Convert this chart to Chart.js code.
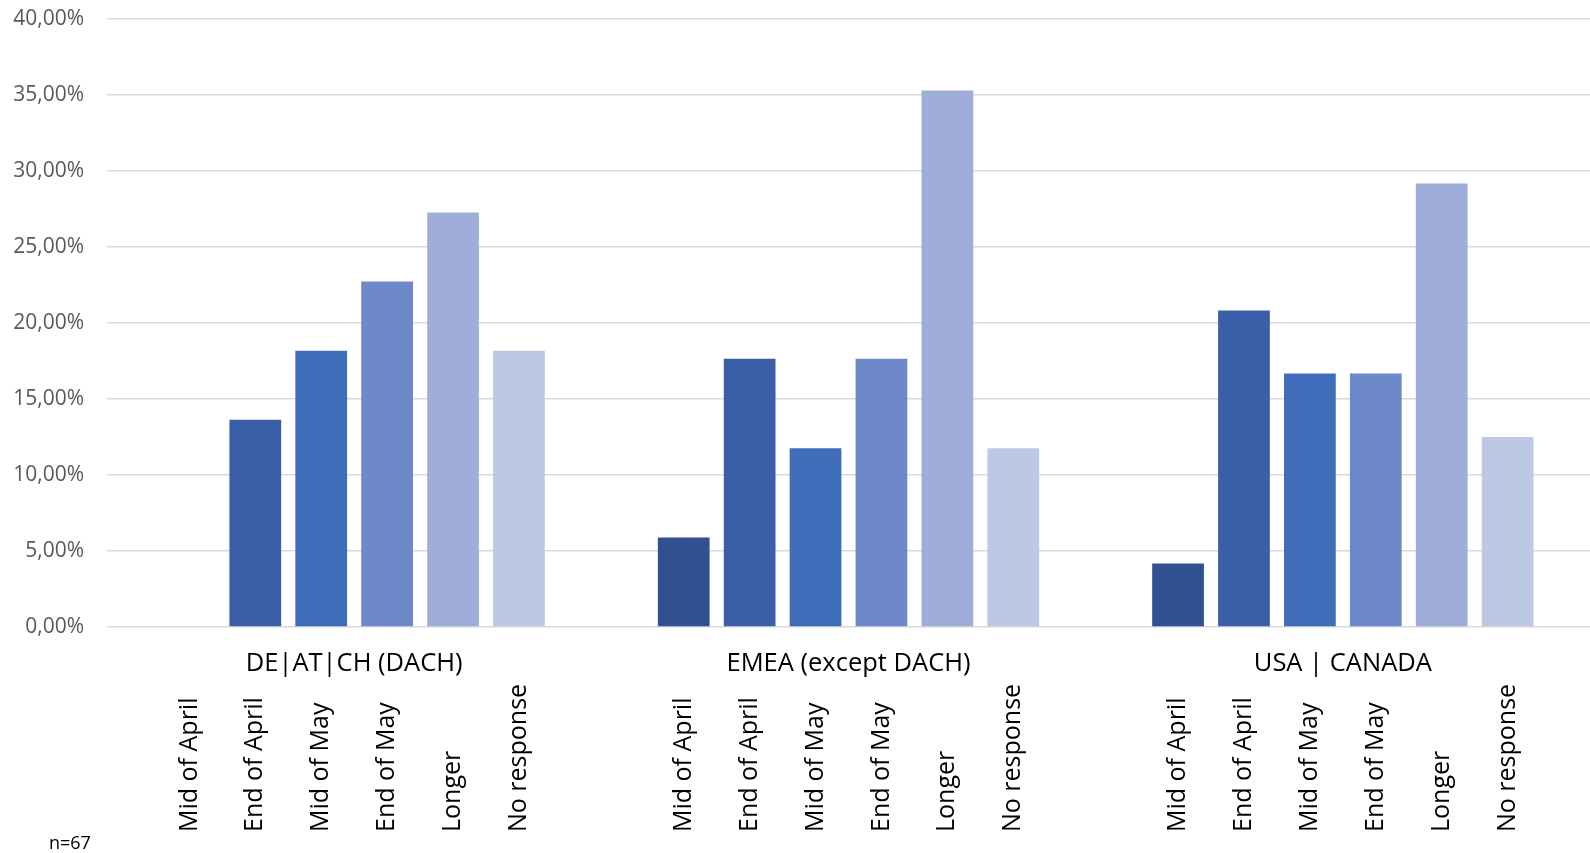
<!DOCTYPE html>
<html>
<head>
<meta charset="utf-8">
<script src="https://cdn.jsdelivr.net/npm/chart.js@4/dist/chart.umd.min.js"></script>
<style>
  html, body { margin: 0; padding: 0; background: #ffffff; }
  #wrap { width: 1590px; height: 853px; position: relative; }
</style>
</head>
<body>
<div id="wrap"><canvas id="chart"></canvas></div>
<script>
// Regions (x categories)
const regions = ['DE|AT|CH (DACH)', 'EMEA (except DACH)', 'USA | CANADA'];

// Expected timeframe answers (one series each)
const seriesNames = ['Mid of April', 'End of April', 'Mid of May', 'End of May', 'Longer', 'No response'];

// Share of answers per region, in percent
const midOfApril  = [0.00, 5.88, 4.17];
const endOfApril  = [13.64, 17.65, 20.83];
const midOfMay    = [18.18, 11.76, 16.67];
const endOfMay    = [22.73, 17.65, 16.67];
const longer      = [27.27, 35.29, 29.17];
const noResponse  = [18.18, 11.76, 12.50];

// Y axis ticks
const yTicks = [0, 5, 10, 15, 20, 25, 30, 35, 40];

const sampleNote = 'n=67';

const seriesValues = [midOfApril, endOfApril, midOfMay, endOfMay, longer, noResponse];
const seriesColors = ['#2f528f', '#3a5fa6', '#3f6dba', '#6d89c9', '#9faed8', '#bdc8e4'];

const FONT = '"Open Sans", "Noto Sans", sans-serif';

// Draws the series name under each bar (rotated) and the sample size note
const barLabels = {
  id: 'barLabels',
  afterDraw(chart) {
    const ctx = chart.ctx;
    ctx.save();
    ctx.fillStyle = '#000000';
    ctx.font = '25px ' + FONT;
    ctx.textAlign = 'left';
    ctx.textBaseline = 'middle';
    chart.data.datasets.forEach((ds, i) => {
      const meta = chart.getDatasetMeta(i);
      meta.data.forEach(bar => {
        ctx.save();
        ctx.translate(bar.x, 832);
        ctx.rotate(-Math.PI / 2);
        ctx.fillText(ds.label, 0, 0);
        ctx.restore();
      });
    });
    ctx.font = '18px ' + FONT;
    ctx.textBaseline = 'middle';
    ctx.fillText(sampleNote, 49, 844);
    ctx.restore();
  }
};

new Chart(document.getElementById('chart'), {
  type: 'bar',
  data: {
    labels: regions,
    datasets: seriesNames.map((name, i) => ({
      label: name,
      data: seriesValues[i],
      backgroundColor: seriesColors[i],
      borderWidth: 0,
      categoryPercentage: 0.8,
      barPercentage: 0.785
    }))
  },
  options: {
    responsive: true,
    maintainAspectRatio: false,
    animation: false,
    layout: { padding: { top: 19, right: 0, bottom: 0, left: 0 } },
    plugins: {
      legend: { display: false },
      tooltip: { enabled: false }
    },
    scales: {
      x: {
        grid: { display: false, drawTicks: false },
        border: { display: false },
        ticks: {
          color: '#000000',
          font: { family: FONT, size: 25.5 },
          padding: 21,
          maxRotation: 0,
          autoSkip: false
        },
        afterFit(scale) { scale.height = 226; }
      },
      y: {
        min: 0,
        max: 40,
        afterBuildTicks(scale) { scale.ticks = yTicks.map(v => ({ value: v })); },
        grid: { color: '#d9d9d9', lineWidth: 1.5, drawTicks: false },
        border: { display: false },
        ticks: {
          color: '#595959',
          font: { family: FONT, size: 21 },
          padding: 23,
          callback: v => v.toFixed(2).replace('.', ',') + '%'
        },
        afterFit(scale) {
          scale.width = 107;
          scale.paddingTop = 0;
          scale.paddingBottom = 0;
        }
      }
    }
  },
  plugins: [barLabels]
});
</script>
</body>
</html>
